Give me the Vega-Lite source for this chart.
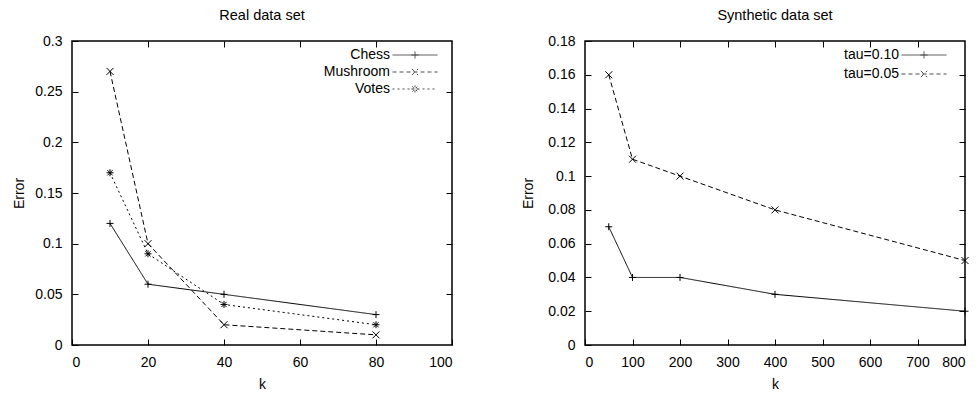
{
  "$schema": "https://vega.github.io/schema/vega-lite/v6.json",
  "background": "white",
  "padding": {"left": 12, "top": 6, "right": 0, "bottom": 0},
  "spacing": 67,
  "config": {
    "font": "Liberation Sans",
    "view": {"stroke": "black", "strokeWidth": 1.5},
    "title": {"fontSize": 14.5, "fontWeight": "normal", "color": "black", "offset": 11},
    "axis": {
      "grid": false, "domain": false, "tickColor": "black", "tickSize": -6, "tickWidth": 1,
      "labelFontSize": 14, "labelColor": "black", "labelPadding": 16,
      "titleFontSize": 14, "titleFontWeight": "normal", "titleColor": "black"
    },
    "axisX": {"titlePadding": 8},
    "axisY": {"titlePadding": 8},
    "legend": {
      "orient": "none", "legendX": 336, "legendY": 7, "title": null,
      "symbolSize": 81, "symbolStrokeColor": "black", "symbolStrokeWidth": 1,
      "labelAlign": "right", "labelOffset": -32, "labelFontSize": 14, "labelColor": "black",
      "rowPadding": 3
    }
  },
  "hconcat": [
    {
      "width": 380, "height": 304,
      "title": "Real data set",
      "data": {"values": [
        {"series": "Chess", "k": 10, "err": 0.12},
        {"series": "Chess", "k": 20, "err": 0.06},
        {"series": "Chess", "k": 40, "err": 0.05},
        {"series": "Chess", "k": 80, "err": 0.03},
        {"series": "Mushroom", "k": 10, "err": 0.27},
        {"series": "Mushroom", "k": 20, "err": 0.10},
        {"series": "Mushroom", "k": 40, "err": 0.02},
        {"series": "Mushroom", "k": 80, "err": 0.01},
        {"series": "Votes", "k": 10, "err": 0.17},
        {"series": "Votes", "k": 20, "err": 0.09},
        {"series": "Votes", "k": 40, "err": 0.04},
        {"series": "Votes", "k": 80, "err": 0.02}
      ]},
      "layer": [
        {
          "mark": {"type": "line", "color": "black", "strokeWidth": 1},
          "encoding": {
            "x": {"field": "k", "type": "quantitative", "scale": {"domain": [0, 100]}, "axis": {"title": "k", "values": [0, 20, 40, 60, 80, 100]}},
            "y": {"field": "err", "type": "quantitative", "scale": {"domain": [0, 0.3]}, "axis": {"title": "Error", "format": "~g", "values": [0, 0.05, 0.1, 0.15, 0.2, 0.25, 0.3]}},
            "strokeDash": {"field": "series", "type": "nominal", "scale": {"domain": ["Chess", "Mushroom", "Votes"], "range": [[1, 0], [5, 3], [2, 3]]}, "legend": null}
          }
        },
        {
          "mark": {"type": "point", "color": "black", "filled": false, "size": 49, "strokeWidth": 1, "opacity": 1},
          "encoding": {
            "x": {"field": "k", "type": "quantitative", "scale": {"domain": [0, 100]}, "axis": {"orient": "top", "labels": false, "title": null, "values": [20, 40, 60, 80]}},
            "y": {"field": "err", "type": "quantitative", "scale": {"domain": [0, 0.3]}, "axis": {"orient": "right", "labels": false, "title": null, "values": [0.05, 0.1, 0.15, 0.2, 0.25]}},
            "shape": {"field": "series", "type": "nominal", "scale": {"domain": ["Chess", "Mushroom", "Votes"], "range": ["M-1,0L1,0M0,-1L0,1", "M-1,-1L1,1M-1,1L1,-1", "M-1,0L1,0M0,-1L0,1M-0.75,-0.75L0.75,0.75M-0.75,0.75L0.75,-0.75"]}, "legend": null}
          }
        },
        {
          "transform": [{"filter": "datum.k < 0"}],
          "mark": {"type": "point", "color": "black", "filled": false, "strokeWidth": 1},
          "encoding": {
            "x": {"field": "k", "type": "quantitative", "axis": null},
            "y": {"field": "err", "type": "quantitative", "axis": null},
            "shape": {"field": "series", "type": "nominal", "scale": {"domain": ["Chess", "Mushroom", "Votes"], "range": ["M-5,0L5,0M-0.8,0L0.8,0M0,-0.8L0,0.8", "M-5,0L5,0M-0.7,-0.7L0.7,0.7M-0.7,0.7L0.7,-0.7", "M-5,0L5,0M-0.8,0L0.8,0M0,-0.8L0,0.8M-0.6,-0.6L0.6,0.6M-0.6,0.6L0.6,-0.6"]}},
            "strokeDash": {"field": "series", "type": "nominal", "scale": {"domain": ["Chess", "Mushroom", "Votes"], "range": [[1, 0], [4, 3], [2, 3]]}}
          }
        }
      ],
      "resolve": {"scale": {"shape": "independent", "strokeDash": "independent"}, "axis": {"x": "independent", "y": "independent"}}
    },
    {
      "width": 380, "height": 304,
      "title": "Synthetic data set",
      "data": {"values": [
        {"series": "tau=0.10", "k": 50, "err": 0.07},
        {"series": "tau=0.10", "k": 100, "err": 0.04},
        {"series": "tau=0.10", "k": 200, "err": 0.04},
        {"series": "tau=0.10", "k": 400, "err": 0.03},
        {"series": "tau=0.10", "k": 800, "err": 0.02},
        {"series": "tau=0.05", "k": 50, "err": 0.16},
        {"series": "tau=0.05", "k": 100, "err": 0.11},
        {"series": "tau=0.05", "k": 200, "err": 0.10},
        {"series": "tau=0.05", "k": 400, "err": 0.08},
        {"series": "tau=0.05", "k": 800, "err": 0.05}
      ]},
      "layer": [
        {
          "mark": {"type": "line", "color": "black", "strokeWidth": 1},
          "encoding": {
            "x": {"field": "k", "type": "quantitative", "scale": {"domain": [0, 800]}, "axis": {"title": "k", "values": [0, 100, 200, 300, 400, 500, 600, 700, 800]}},
            "y": {"field": "err", "type": "quantitative", "scale": {"domain": [0, 0.18]}, "axis": {"title": "Error", "titlePadding": 12, "format": "~g", "values": [0, 0.02, 0.04, 0.06, 0.08, 0.1, 0.12, 0.14, 0.16, 0.18]}},
            "strokeDash": {"field": "series", "type": "nominal", "scale": {"domain": ["tau=0.10", "tau=0.05"], "range": [[1, 0], [5, 3]]}, "legend": null}
          }
        },
        {
          "mark": {"type": "point", "color": "black", "filled": false, "size": 49, "strokeWidth": 1, "opacity": 1},
          "encoding": {
            "x": {"field": "k", "type": "quantitative", "scale": {"domain": [0, 800]}, "axis": {"orient": "top", "labels": false, "title": null, "values": [100, 200, 300, 400, 500, 600, 700]}},
            "y": {"field": "err", "type": "quantitative", "scale": {"domain": [0, 0.18]}, "axis": {"orient": "right", "labels": false, "title": null, "values": [0.02, 0.04, 0.06, 0.08, 0.1, 0.12, 0.14, 0.16]}},
            "shape": {"field": "series", "type": "nominal", "scale": {"domain": ["tau=0.10", "tau=0.05"], "range": ["M-1,0L1,0M0,-1L0,1", "M-1,-1L1,1M-1,1L1,-1"]}, "legend": null}
          }
        },
        {
          "transform": [{"filter": "datum.k < 0"}],
          "mark": {"type": "point", "color": "black", "filled": false, "strokeWidth": 1},
          "encoding": {
            "x": {"field": "k", "type": "quantitative", "axis": null},
            "y": {"field": "err", "type": "quantitative", "axis": null},
            "shape": {"field": "series", "type": "nominal", "scale": {"domain": ["tau=0.10", "tau=0.05"], "range": ["M-5,0L5,0M-0.8,0L0.8,0M0,-0.8L0,0.8", "M-5,0L5,0M-0.7,-0.7L0.7,0.7M-0.7,0.7L0.7,-0.7"]}, "legend": {"legendX": 332, "legendY": 7, "rowPadding": 5}},
            "strokeDash": {"field": "series", "type": "nominal", "scale": {"domain": ["tau=0.10", "tau=0.05"], "range": [[1, 0], [4, 3]]}, "legend": {"legendX": 332, "legendY": 7, "rowPadding": 5}}
          }
        }
      ],
      "resolve": {"scale": {"shape": "independent", "strokeDash": "independent"}, "axis": {"x": "independent", "y": "independent"}}
    }
  ]
}
